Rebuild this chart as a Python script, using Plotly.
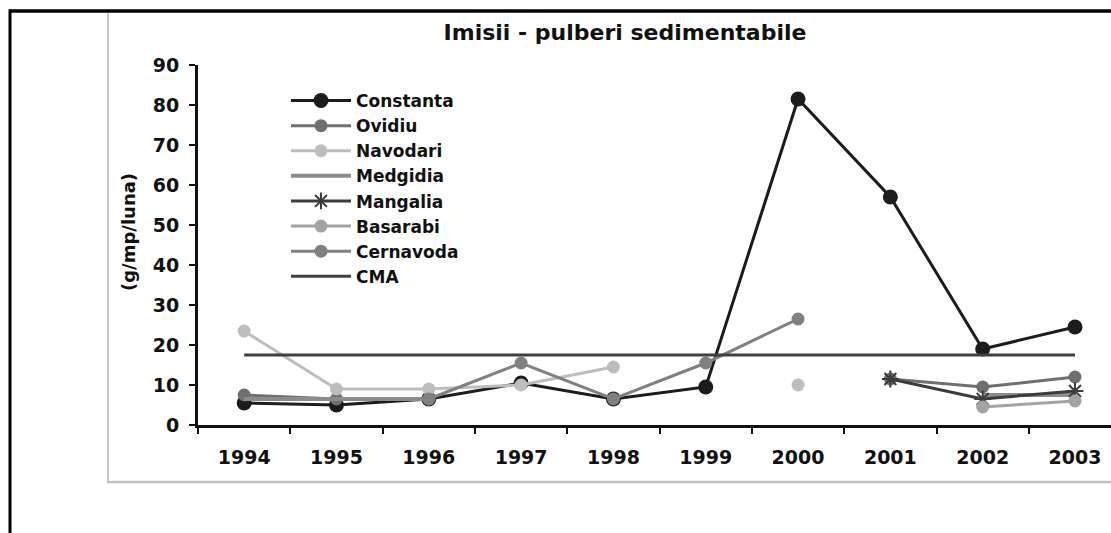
import plotly.graph_objects as go

years = ["1994", "1995", "1996", "1997", "1998", "1999", "2000", "2001", "2002", "2003"]
constanta = [5.5, 5.0, 6.5, 10.5, 6.5, 9.5, 81.5, 57.0, 19.0, 24.5]
ovidiu = [7.5, 6.5, 6.5, None, None, None, None, 11.5, 9.5, 12.0]
navodari = [23.5, 9.0, 9.0, 10.0, 14.5, None, 10.0, None, None, None]
medgidia = [6.5, 6.5, 6.5, None, None, None, None, None, 7.5, 7.5]
mangalia = [None, None, None, None, None, None, None, 11.5, 6.5, 8.5]
basarabi = [None, None, None, None, None, None, None, None, 4.5, 6.0]
cernavoda = [None, None, 6.5, 15.5, 6.5, 15.5, 26.5, None, None, None]
cma = [17.5] * 10

FONT = "DejaVu Sans"

# plot-area pixel geometry (for decorative frame conversion)
L, R, T, B = 198, 0, 65, 108
W, H = 1111, 533
PW, PH = W - L - R, H - T - B


def px_x(px):
    return (px - L) / PW


def px_y(py):
    return (H - B - py) / PH


fig = go.Figure()

series = [
    ("Constanta", constanta, "#1c1c1c", "lines+markers", "circle", 15, 3),
    ("Ovidiu", ovidiu, "#6f6f6f", "lines+markers", "circle", 13, 3),
    ("Navodari", navodari, "#bdbdbd", "lines+markers", "circle", 13, 3),
    ("Medgidia", medgidia, "#8c8c8c", "lines", "circle", 1, 4),
    ("Mangalia", mangalia, "#3c3c3c", "lines+markers", "asterisk-open", 14, 3),
    ("Basarabi", basarabi, "#a3a3a3", "lines+markers", "circle", 13, 3),
    ("Cernavoda", cernavoda, "#808080", "lines+markers", "circle", 13, 3),
    ("CMA", cma, "#404040", "lines", "circle", 1, 3),
]

for name, vals, col, mode, sym, size, lw in series:
    marker = dict(color=col, size=size, symbol=sym)
    if sym == "asterisk-open":
        marker["line"] = dict(color=col, width=2)
    fig.add_trace(go.Scatter(
        x=years, y=vals, name=name, mode=mode,
        line=dict(color=col, width=lw),
        marker=marker,
        connectgaps=False,
    ))

fig.update_layout(
    width=W, height=H,
    margin=dict(l=L, r=R, t=T, b=B, pad=0),
    paper_bgcolor="white", plot_bgcolor="white",
    font=dict(family=FONT, color="#111111"),
    title=dict(
        text="<b>Imisii - pulberi sedimentabile</b>",
        font=dict(family=FONT, size=22, color="#111111"),
        xref="container", x=625 / W, xanchor="center",
        yref="container", y=1 - 32 / H, yanchor="middle",
    ),
    showlegend=True,
    legend=dict(
        x=px_x(286), y=px_y(83), xanchor="left", yanchor="top",
        bgcolor="rgba(0,0,0,0)", borderwidth=0,
        font=dict(family=FONT, size=17, color="#111111", weight="bold"),
        itemwidth=60,
    ),
    xaxis=dict(
        type="category", range=[-0.5, 9.39],
        tickson="boundaries", ticks="outside", ticklen=6, tickwidth=2,
        tickcolor="#111111",
        showline=True, linewidth=3, linecolor="#111111",
        showgrid=False, zeroline=False,
        tickfont=dict(family=FONT, size=19, color="#111111", weight="bold"),
        ticklabelstandoff=13,
    ),
    yaxis=dict(
        range=[0, 90], dtick=10, tick0=0,
        ticks="outside", ticklen=6, tickwidth=2, tickcolor="#111111",
        showline=True, linewidth=3, linecolor="#111111",
        showgrid=False, zeroline=False,
        tickfont=dict(family=FONT, size=19, color="#111111", weight="bold"),
        ticklabelstandoff=6,
    ),
    annotations=[
        dict(
            text="<b>(g/mp/luna)</b>", textangle=-90,
            xref="paper", yref="paper", x=px_x(128), y=px_y(232),
            xanchor="center", yanchor="middle", showarrow=False,
            font=dict(family=FONT, size=18, color="#111111"),
        )
    ],
    shapes=[
        # outer black frame (top and left)
        dict(type="line", xref="paper", yref="paper",
             x0=px_x(9), x1=px_x(1115), y0=px_y(11), y1=px_y(11),
             line=dict(color="#000000", width=3.5)),
        dict(type="line", xref="paper", yref="paper",
             x0=px_x(10), x1=px_x(10), y0=px_y(9.5), y1=px_y(540),
             line=dict(color="#000000", width=3)),
        # inner light-gray chart-area frame
        dict(type="line", xref="paper", yref="paper",
             x0=px_x(108), x1=px_x(108), y0=px_y(13), y1=px_y(482),
             line=dict(color="#c8c8c8", width=2)),
        dict(type="line", xref="paper", yref="paper",
             x0=px_x(107), x1=px_x(1115), y0=px_y(482), y1=px_y(482),
             line=dict(color="#c0c0c0", width=2.5)),
    ],
)

fig.write_html(
    "out.html",
    config={"displayModeBar": False},
    post_script="document.body.style.margin='0';document.body.style.overflow='hidden';",
)
